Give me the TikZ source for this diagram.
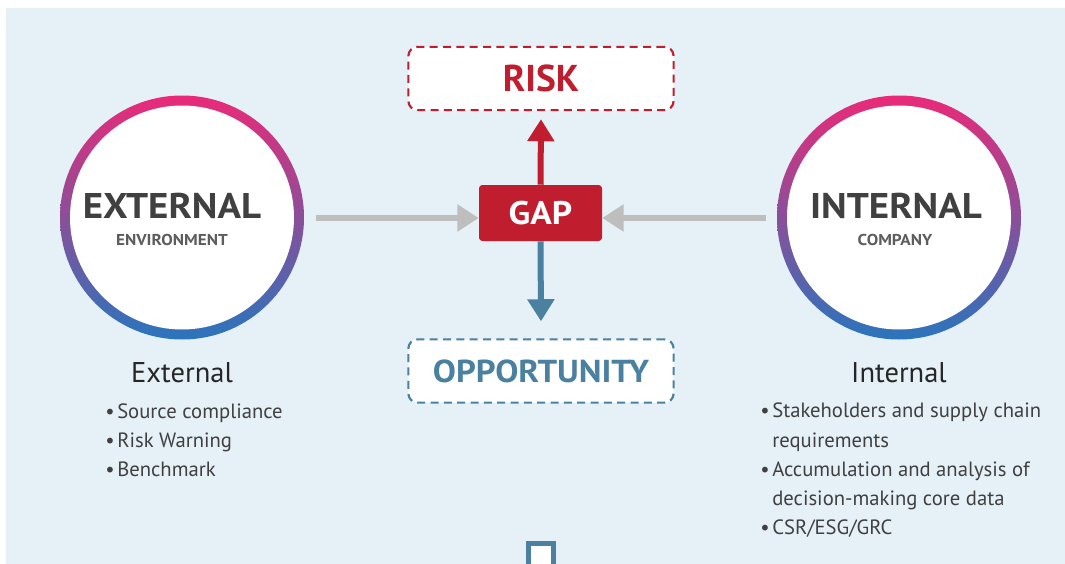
\documentclass[tikz,border=0pt]{standalone}
\usepackage{fontspec}
\setmainfont{PT Sans}
\newfontfamily\widebold[FakeStretch=1.09]{PT Sans Bold}
\newfontfamily\plainbold{PT Sans Bold}
\usetikzlibrary{arrows.meta}
\definecolor{bgblue}{HTML}{E5F0F7}
\definecolor{gapred}{HTML}{C01E2E}
\definecolor{oppblue}{HTML}{4A80A0}
\definecolor{arrgray}{HTML}{BEBEBE}
\definecolor{darktext}{HTML}{404041}
\definecolor{ringpink}{HTML}{E92A78}
\definecolor{ringblue}{HTML}{2A75BC}
\begin{document}
\begin{tikzpicture}[x=0.75pt,y=-0.75pt,
  ring/.style={circle, minimum size=183pt, inner sep=0pt, top color=ringpink, bottom color=ringblue, draw=none},
  disc/.style={circle, fill=white, minimum size=168pt, inner sep=0pt},
  dashbox/.style={rounded corners=7pt, fill=white, line width=1.6pt, dash pattern=on 6pt off 4pt, minimum width=199pt, minimum height=47.5pt, inner sep=0pt},
  bigtitle/.style={anchor=base, text=darktext, font=\widebold\fontsize{26.8pt}{30pt}\selectfont},
  subtitle/.style={anchor=base, text=darktext!85, font=\widebold\fontsize{11.8pt}{14pt}\selectfont},
  heading/.style={anchor=base, text=black!85, font=\fontsize{21.4pt}{25pt}\selectfont},
  item/.style={anchor=base west, text=darktext, font=\fontsize{15.5pt}{18pt}\selectfont, inner sep=0pt},
  grayarrow/.style={draw=arrgray, line width=4.5pt, -{Triangle[length=16pt,width=19.5pt]}},
  colarrow/.style={line width=4.5pt, -{Triangle[length=16.5pt,width=19.5pt]}}
]
\useasboundingbox (0,0) rectangle (1065,564);
\fill[bgblue] (6,8) rectangle (1065,564);

% circles
\node[ring] (ext) at (182,217.5) {};
\node[disc] at (ext.center) {};
\node[ring] (int) at (899,217.5) {};
\node[disc] at (int.center) {};

\node[bigtitle] (extT) at (172,218) {EXTERNAL};
\node[subtitle] (extS) at (172,245) {ENVIRONMENT};
\node[bigtitle] (intT) at (896,218) {INTERNAL};
\node[subtitle] (intS) at (895,245) {COMPANY};

% central boxes
\node[dashbox, draw=gapred] (risk) at (541,78.5) {\textcolor{gapred}{\plainbold\fontsize{28pt}{32pt}\selectfont RISK}};
\node[dashbox, draw=oppblue] (opp) at (541,371) {\textcolor{oppblue}{\widebold\fontsize{23.8pt}{28pt}\selectfont OPPORTUNITY}};
\node[fill=gapred, rounded corners=2.5pt, minimum width=92.25pt, minimum height=42pt, inner sep=0pt,
      text=white, font=\widebold\fontsize{24.5pt}{28pt}\selectfont] (gap) at (540.5,213) {GAP};

% arrows
\draw[colarrow, draw=gapred] (gap.north) -- ([yshift=-6pt]risk.south);
\draw[colarrow, draw=oppblue] (gap.south) -- ([yshift=12.75pt]opp.north);
\draw[grayarrow] ([shift={(12,0.5)}]ext.east) -- ([shift={(0,5)}]gap.west);
\draw[grayarrow] ([shift={(-11,0.5)}]int.west) -- ([shift={(0,5)}]gap.east);

% headings
\node[heading] (extH) at (182,382) {External};
\node[heading] (intH) at (899,382) {Internal};

% left items
\node[item] (l1) at (105,418) {•\hspace{2pt}Source compliance};
\node[item] (l2) at (105,447) {•\hspace{2pt}Risk Warning};
\node[item] (l3) at (105,476) {•\hspace{2pt}Benchmark};

% right items
\node[item] (r1) at (760,417) {•\hspace{2pt}Stakeholders and supply chain};
\node[item] (r1b) at (772,447) {requirements};
\node[item] (r2) at (760,476) {•\hspace{2pt}Accumulation and analysis of};
\node[item] (r2b) at (772,505) {decision-making core data};
\node[item] (r3) at (760,534) {•\hspace{2pt}CSR/ESG/GRC};

% bottom partial square
\draw[oppblue, fill=white, line width=3.75pt] (528.5,566) -- (528.5,543.5) -- (553.5,543.5) -- (553.5,566);
\end{tikzpicture}
\end{document}
